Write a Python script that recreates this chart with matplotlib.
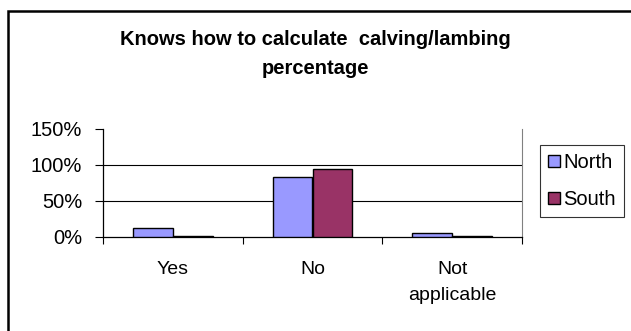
import matplotlib
matplotlib.use("Agg")
import matplotlib.pyplot as plt
import numpy as np
from matplotlib.patches import Rectangle

plt.rcParams['font.family'] = ['Liberation Sans', 'DejaVu Sans']

categories = ["Yes", "No", "Not\napplicable"]
north = [12.5, 83, 5]
south = [2, 95, 1.5]
series_names = ["North", "South"]
colors = ["#9999FF", "#993366"]
yticks = [0, 50, 100, 150]
title = "Knows how to calculate  calving/lambing\npercentage"

W, H = 631, 331
fig = plt.figure(figsize=(W / 100, H / 100), dpi=100)

# outer chart frame (left and top edges visible)
fig.patches.append(Rectangle((8 / W, -0.1), 1.2, 1 - 11 / H + 0.1,
                             transform=fig.transFigure, fill=False,
                             edgecolor="black", linewidth=1.8))

ax = fig.add_axes([103 / W, 1 - 237 / H, (522 - 103) / W, (237 - 129) / H])

x = np.arange(len(categories))
bw = 0.2857
ax.bar(x - bw / 2, north, bw, color=colors[0], edgecolor="black",
       linewidth=1.0, label=series_names[0], zorder=3)
ax.bar(x + bw / 2, south, bw, color=colors[1], edgecolor="black",
       linewidth=1.0, label=series_names[1], zorder=3)

ax.set_xlim(-0.5, len(categories) - 0.5)
ax.set_ylim(0, 150)
ax.set_yticks(yticks)
ax.set_yticklabels([f"{v}%" for v in yticks], fontsize=14.5)
for v in yticks[1:-1]:
    ax.axhline(v, color="black", linewidth=0.8, zorder=1)

ax.set_xticks(x)
ax.set_xticklabels(categories, fontsize=14, linespacing=1.75)
ax.tick_params(axis="x", length=0, pad=17)
# category boundary ticks
ax.set_xticks(np.arange(len(categories) + 1) - 0.5, minor=True)
ax.tick_params(axis="x", which="minor", length=5, width=0.8, direction="out")
ax.tick_params(axis="y", length=6, width=0.8, direction="out", pad=9)

ax.spines["top"].set_visible(False)
for s in ["left", "bottom"]:
    ax.spines[s].set_linewidth(0.9)
ax.spines["right"].set_linewidth(0.8)
ax.spines["right"].set_color("#808080")

fig.text(0.5, 1 - 30 / H, title, ha="center", va="top", fontsize=14.5,
         fontweight="bold", linespacing=1.65)

leg = fig.legend(loc="upper left", bbox_to_anchor=(540 / W, 1 - 145 / H),
                 bbox_transform=fig.transFigure, fontsize=14.5,
                 frameon=True, fancybox=False, edgecolor="black",
                 handlelength=0.6, handleheight=0.6, handletextpad=0.15,
                 borderpad=0.4, labelspacing=0.9, borderaxespad=0)
leg.get_frame().set_linewidth(0.8)

fig.savefig("out.png", dpi=100)
